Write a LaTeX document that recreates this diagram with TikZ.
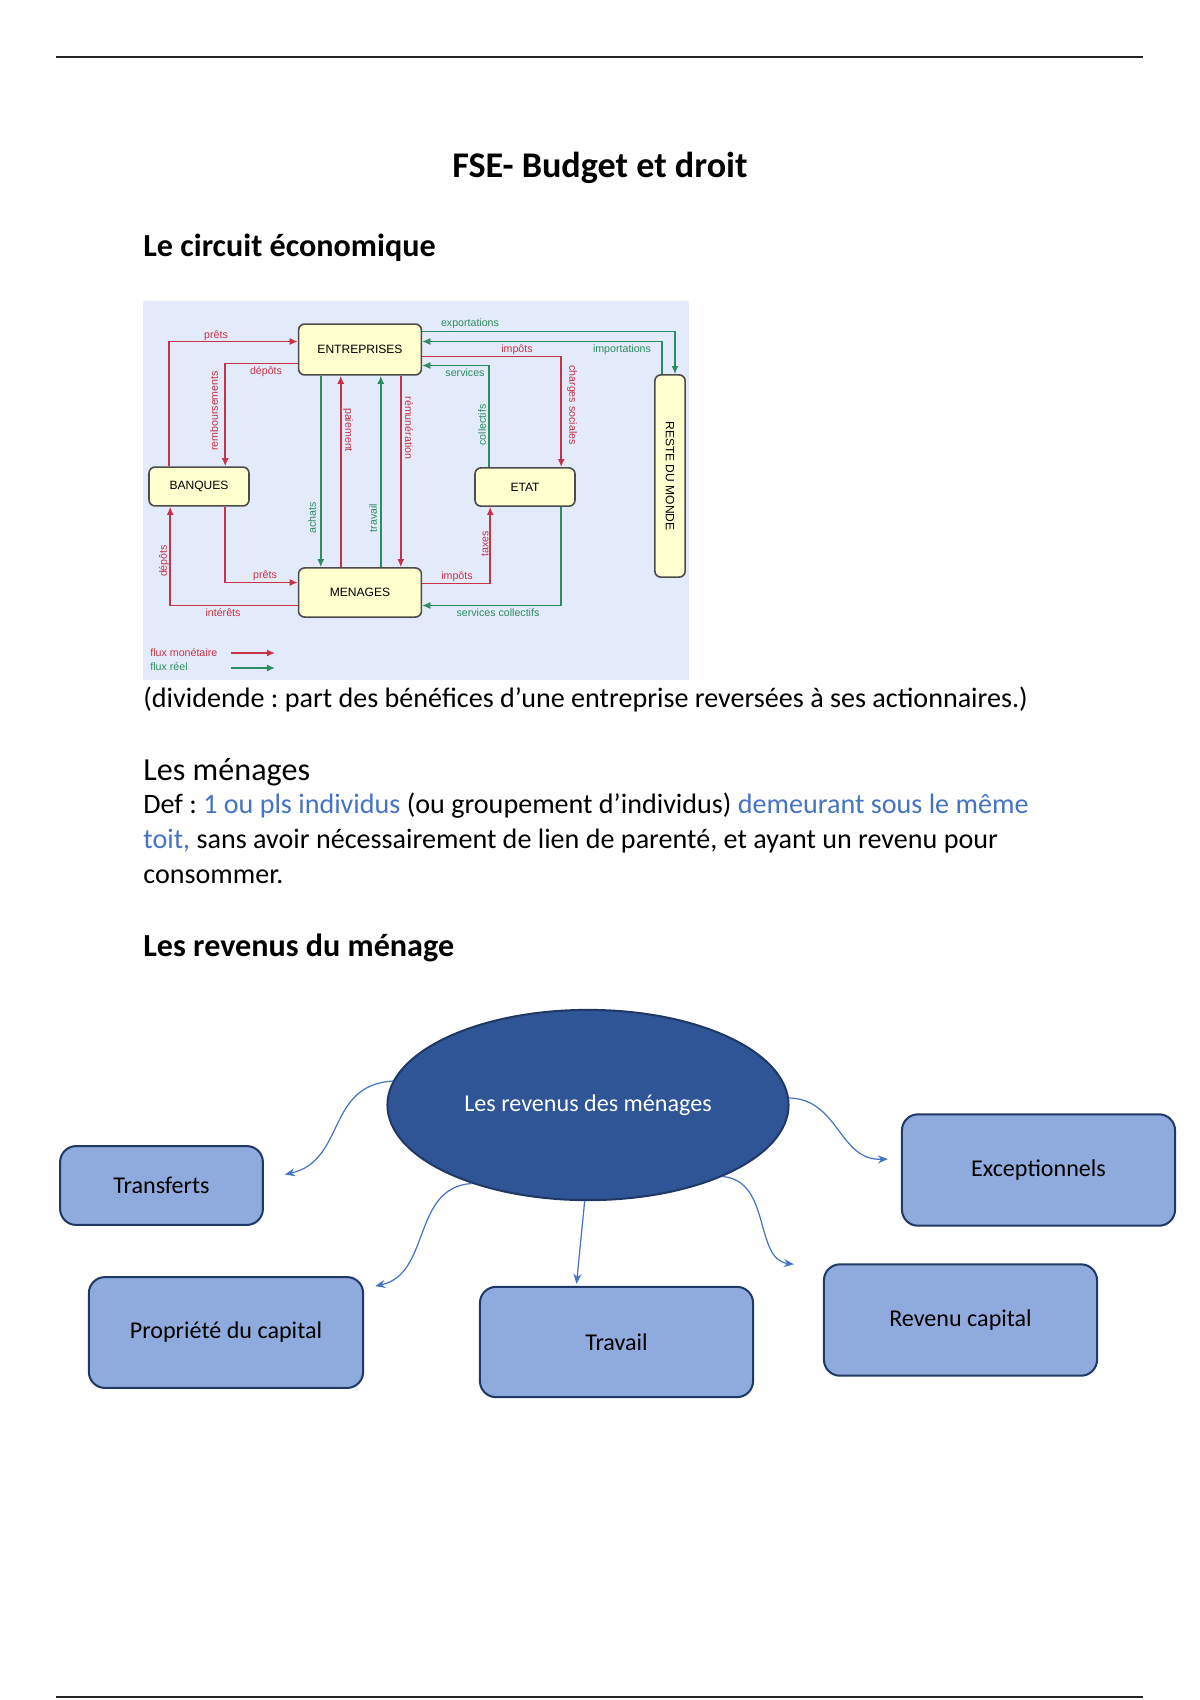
\documentclass[tikz,border=0pt]{standalone}
\usepackage{fontspec}
\setmainfont{Carlito}
\setsansfont{Liberation Sans}
\usepackage{xcolor}
\usetikzlibrary{positioning,arrows.meta,shapes.geometric,calc}
\definecolor{monred}{RGB}{200,50,70}
\definecolor{reelgreen}{RGB}{45,140,95}
\definecolor{circbg}{RGB}{227,235,250}
\definecolor{boxyellow}{RGB}{255,255,208}
\definecolor{navy}{RGB}{32,56,100}
\definecolor{darkfill}{RGB}{47,85,151}
\definecolor{lightfill}{RGB}{143,170,220}
\definecolor{accent}{RGB}{68,114,196}
\frenchspacing
\tikzset{
agent/.style={
draw=black!70,
line width=0.8pt,
rounded corners=3pt,
fill=boxyellow,
inner sep=0pt,
font=\sffamily\fontsize{6}{7}\selectfont
},
mon/.style={
-{Latex[length=4pt,width=3.5pt]},
draw=monred,
line width=0.75pt
},
reel/.style={
-{Latex[length=4pt,width=3.5pt]},
draw=reelgreen,
line width=0.75pt
},
flowlbl/.style={
inner sep=0pt,
font=\sffamily\fontsize{5.3}{6}\selectfont
},
theme/.style={
draw=navy,
line width=1pt,
rounded corners=8pt,
fill=lightfill,
minimum width=4.78cm,
minimum height=1.95cm,
font=\fontsize{12}{14}\selectfont
},
branch/.style={
-{Stealth[length=5pt,width=4pt]},
draw=accent,
line width=0.6pt
},
heading/.style={
anchor=base west,
inner sep=0pt,
font=\bfseries\fontsize{16}{19}\selectfont
},
body/.style={
anchor=base west,
inner sep=0pt,
font=\fontsize{14}{17.4}\selectfont
}
}

\begin{document}
\begin{tikzpicture}[x=0.0175cm,y=-0.0175cm]
\useasboundingbox (0,0) rectangle (1200,1700);

% page rules
\draw[line width=1.2pt,black!85] (56,57) -- (1143,57);
\draw[line width=1.2pt,black!85] (56,1697) -- (1143,1697);

\node[anchor=base,inner sep=0pt,font=\bfseries\fontsize{18}{22}\selectfont](title) at (600,177){FSE- Budget et droit};
\node[heading](h1) at (143,256){Le circuit économique};

% circuit economique
\fill[circbg] (143,301) rectangle (689,680);
\node[agent,minimum width=2.15cm,minimum height=0.89cm](ent) at (360,349.5){ENTREPRISES};
\node[agent,minimum width=1.75cm,minimum height=0.68cm](banq) at (199,486.5){BANQUES};
\node[agent,minimum width=1.75cm,minimum height=0.67cm](etat) at (525,487){ETAT};
\node[agent,minimum width=2.15cm,minimum height=0.86cm](men) at (360,592.5){MENAGES};
\node[agent,rotate=-90,minimum width=3.54cm,minimum height=0.53cm](rdm) at (670,476){RESTE DU MONDE};

\draw[mon] ($(banq.north west)+(21,0)$) |- ($(ent.west)+(0,-8)$);
\draw[mon] ($(ent.west)+(0,14)$) -| ($(banq.north west)+(77,0)$);
\draw[reel] ($(ent.south west)+(23,0)$) -- ($(men.north west)+(23,0)$);
\draw[mon] ($(men.north west)+(43,0)$) -- ($(ent.south west)+(43,0)$);
\draw[reel] ($(men.north west)+(83,0)$) -- ($(ent.south west)+(83,0)$);
\draw[mon] ($(ent.south west)+(103,0)$) -- ($(men.north west)+(103,0)$);
\draw[reel] ($(ent.east)+(0,-18)$) -| ($(rdm.west)+(5,0)$);
\draw[reel] ($(rdm.west)+(-8,0)$) |- ($(ent.east)+(0,-8)$);
\draw[mon] ($(ent.east)+(0,7)$) -| ($(etat.north west)+(87,0)$);
\draw[reel] ($(etat.north west)+(15,0)$) |- ($(ent.east)+(0,16)$);
\draw[mon] ($(men.west)+(0,13)$) -| ($(banq.south west)+(22,0)$);
\draw[mon] ($(banq.south west)+(77,0)$) |- ($(men.west)+(0,-10)$);
\draw[mon] ($(men.east)+(0,-9)$) -| ($(etat.south west)+(16,0)$);
\draw[reel] ($(etat.south west)+(87,0)$) |- ($(men.east)+(0,13)$);

% flow labels
\node[flowlbl,text=monred] at (216,336){prêts};
\node[flowlbl,text=monred] at (266,372){dépôts};
\node[flowlbl,text=monred,rotate=90] at (214,411){remboursements};
\node[flowlbl,text=reelgreen,rotate=90] at (312,518){achats};
\node[flowlbl,text=monred,rotate=-90] at (348,430){paiement};
\node[flowlbl,text=reelgreen,rotate=90] at (373,518){travail};
\node[flowlbl,text=monred,rotate=-90] at (409,428){rémunération};
\node[flowlbl,text=reelgreen] at (470,324){exportations};
\node[flowlbl,text=reelgreen] at (622,350){importations};
\node[flowlbl,text=monred] at (517,350){impôts};
\node[flowlbl,text=monred,rotate=-90] at (572,405){charges sociales};
\node[flowlbl,text=reelgreen] at (465,373){services};
\node[flowlbl,text=reelgreen,rotate=90] at (482,425){collectifs};
\node[flowlbl,text=monred] at (223,613){intérêts};
\node[flowlbl,text=monred,rotate=90] at (164,561){dépôts};
\node[flowlbl,text=monred] at (265,576){prêts};
\node[flowlbl,text=monred] at (457,577){impôts};
\node[flowlbl,text=monred,rotate=90] at (485,544){taxes};
\node[flowlbl,text=reelgreen] at (498,613){services collectifs};

% legend
\node[flowlbl,text=monred,anchor=west](lgm) at (150,653){flux monétaire};
\node[flowlbl,text=reelgreen,anchor=west](lgr) at (150,667){flux réel};
\coordinate (lm1) at (231,653);
\coordinate (lm2) at (275,653);
\coordinate (lr1) at (231,668);
\coordinate (lr2) at (275,668);
\draw[mon] (lm1) -- (lm2);
\draw[reel] (lr1) -- (lr2);

% texte
\node[body](divi) at (143,707){(dividende : part des bénéfices d’une entreprise reversées à ses actionnaires.)};
\node[anchor=base west,inner sep=0pt,font=\fontsize{16}{19}\selectfont](h2) at (143,780){Les ménages};
\node[body](def1) at (143,813){Def : \textcolor{accent}{1 ou pls individus} (ou groupement d’individus) \textcolor{accent}{demeurant sous le même}};
\node[body](def2) at (143,848){\textcolor{accent}{toit,} sans avoir nécessairement de lien de parenté, et ayant un revenu pour};
\node[body](def3) at (143,883){consommer.};
\node[heading](h3) at (143,956){Les revenus du ménage};

% revenus du menage
\node[ellipse,draw=navy,line width=1pt,fill=darkfill,text=white,inner sep=0pt,
minimum width=7.02cm,minimum height=3.33cm,font=\fontsize{12}{14}\selectfont](rev) at (588,1105){Les revenus des ménages};
\node[theme,minimum width=3.55cm,minimum height=1.38cm](trans) at (161.5,1185.5){Transferts};
\node[theme](excep) at (1038.5,1170){Exceptionnels};
\node[theme,minimum width=4.8cm,minimum height=1.94cm](prop) at (226,1332.5){Propriété du capital};
\node[theme,minimum height=1.93cm](trav) at (616.5,1342){Travail};
\node[theme](revcap) at (960.5,1320){Revenu capital};

\draw[branch] (rev.173) .. controls +(-67,4) and +(61,-14) .. ($(trans.east)+(21,-11)$);
\draw[branch] (rev.214) .. controls +(-60,4) and +(56,-12) .. ($(prop.north east)+(11,10)$);
\draw[branch] (rev.268) -- ($(trav.north)+(-40,-2)$);
\draw[branch] (rev.-28) .. controls +(49,4) and +(-40,-5) .. ($(revcap.north west)+(-29,1)$);
\draw[branch] (rev.2) .. controls +(50,1) and +(-49,2) .. ($(excep.west)+(-13,-11)$);
\end{tikzpicture}
\end{document}
